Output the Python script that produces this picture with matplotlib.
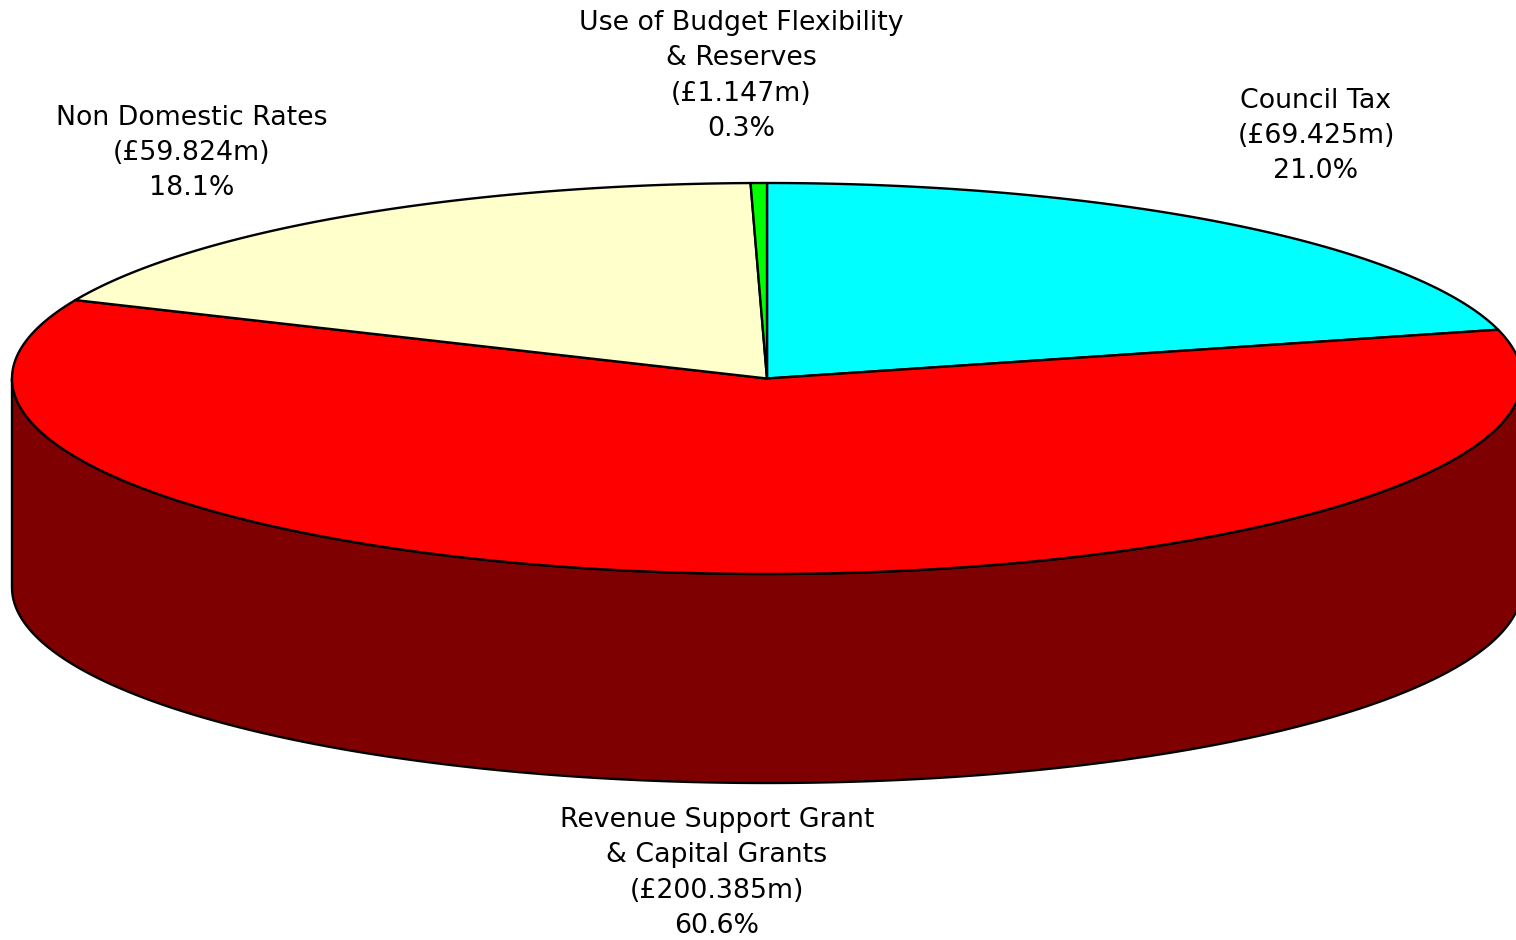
import numpy as np
import matplotlib
matplotlib.use("Agg")
import matplotlib.pyplot as plt
from matplotlib.patches import Polygon

# data
names = ["Council Tax", "Revenue Support Grant\n& Capital Grants", "Non Domestic Rates",
         "Use of Budget Flexibility\n& Reserves"]
values = [69.425, 200.385, 59.824, 1.147]
top_colors = ["#00FFFF", "#FF0000", "#FFFFCC", "#00FF00"]
side_colors = ["#008080", "#7E0000", "#808066", "#008000"]

# label centres (pixels)
label_pos = [(1316, 136), (717, 873), (192, 153), (741, 76)]

# geometry of the pie in pixel space
cx, cy = 767, 378.5
a, b = 755, 195.5
depth = 209

def pt(theta_deg, dy=0):
    t = np.radians(theta_deg)
    return np.column_stack([cx + a * np.cos(t), cy - b * np.sin(t) + dy])

fig = plt.figure(figsize=(15.16, 9.4), dpi=100)
ax = fig.add_axes([0, 0, 1, 1])
ax.set_xlim(0, 1516)
ax.set_ylim(940, 0)
ax.axis("off")

total = sum(values)
pcts = [v / total * 100 for v in values]
starts = 90 - 360 * np.concatenate([[0], np.cumsum(values)[:-1]]) / total
ends = starts - 360 * np.array(values) / total

lw = 1.7

# side walls (front half only)
for s, e, col in zip(starts, ends, side_colors):
    for k in (-360, 0, 360):
        lo = max(e, 180 + k)
        hi = min(s, 360 + k)
        if lo < hi:
            th = np.linspace(lo, hi, 300)
            top = pt(th)
            bot = pt(th[::-1], depth)
            ax.add_patch(Polygon(np.vstack([top, bot]), closed=True, facecolor=col,
                                 edgecolor="black", linewidth=lw, joinstyle="round"))

# top faces
for s, e, col in zip(starts, ends, top_colors):
    th = np.linspace(s, e, 400)
    verts = np.vstack([[cx, cy], pt(th)])
    ax.add_patch(Polygon(verts, closed=True, facecolor=col, edgecolor="black",
                         linewidth=lw, joinstyle="round"))

# labels
for name, v, p, (lx, ly) in zip(names, values, pcts, label_pos):
    txt = f"{name}\n(£{v:.3f}m)\n{p:.1f}%"
    ax.text(lx, ly, txt, ha="center", va="center", fontsize=19.3,
            family="DejaVu Sans", linespacing=1.46, color="black")

fig.savefig("out.png", dpi=100)
